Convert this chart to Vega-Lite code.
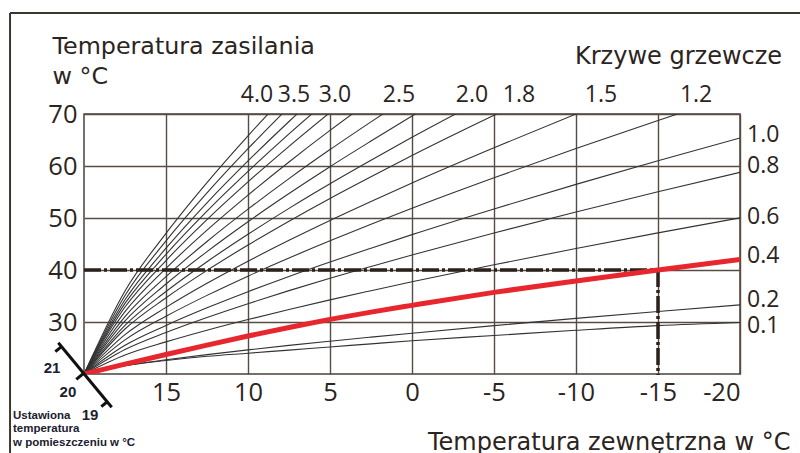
{
  "$schema": "https://vega.github.io/schema/vega-lite/v6.json",
  "width": 656,
  "height": 260,
  "autosize": {"type": "none"},
  "padding": {"left": 84, "top": 114, "right": 60, "bottom": 79},
  "background": "white",
  "config": {
    "view": {"stroke": "#4a403a", "strokeWidth": 1.5},
    "font": "Open Sans",
    "axis": {"domain": false, "ticks": false, "gridColor": "#574c44", "gridWidth": 1.4, "gridOpacity": 1, "labelColor": "#2b2420", "titleColor": "#2b2420", "labelFont": "Open Sans", "titleFont": "DejaVu Sans", "titleFontWeight": "normal"}
  },
  "datasets": {
    "curves": [
      {"curve": "g01", "outdoor": 20, "flow": 20}, {"curve": "g01", "outdoor": 17.5, "flow": 35.97}, {"curve": "g01", "outdoor": 15, "flow": 47.05}, {"curve": "g01", "outdoor": 12.5, "flow": 56.81}, {"curve": "g01", "outdoor": 10, "flow": 65.8}, {"curve": "g01", "outdoor": 7.5, "flow": 74.29},
      {"curve": "g02", "outdoor": 20, "flow": 20}, {"curve": "g02", "outdoor": 17.5, "flow": 35.11}, {"curve": "g02", "outdoor": 15, "flow": 45.59}, {"curve": "g02", "outdoor": 12.5, "flow": 54.83}, {"curve": "g02", "outdoor": 10, "flow": 63.33}, {"curve": "g02", "outdoor": 7.5, "flow": 71.35},
      {"curve": "g03", "outdoor": 20, "flow": 20}, {"curve": "g03", "outdoor": 17.5, "flow": 34.28}, {"curve": "g03", "outdoor": 15, "flow": 44.19}, {"curve": "g03", "outdoor": 12.5, "flow": 52.93}, {"curve": "g03", "outdoor": 10, "flow": 60.97}, {"curve": "g03", "outdoor": 7.5, "flow": 68.56}, {"curve": "g03", "outdoor": 5, "flow": 75.77},
      {"curve": "g04", "outdoor": 20, "flow": 20}, {"curve": "g04", "outdoor": 17.5, "flow": 33.58}, {"curve": "g04", "outdoor": 15, "flow": 43.0}, {"curve": "g04", "outdoor": 12.5, "flow": 51.31}, {"curve": "g04", "outdoor": 10, "flow": 58.95}, {"curve": "g04", "outdoor": 7.5, "flow": 66.17}, {"curve": "g04", "outdoor": 5, "flow": 73.03},
      {"curve": "g05", "outdoor": 20, "flow": 20}, {"curve": "g05", "outdoor": 17.5, "flow": 32.88}, {"curve": "g05", "outdoor": 15, "flow": 41.82}, {"curve": "g05", "outdoor": 12.5, "flow": 49.69}, {"curve": "g05", "outdoor": 10, "flow": 56.94}, {"curve": "g05", "outdoor": 7.5, "flow": 63.78}, {"curve": "g05", "outdoor": 5, "flow": 70.29},
      {"curve": "g06", "outdoor": 20, "flow": 20}, {"curve": "g06", "outdoor": 17.5, "flow": 32.0}, {"curve": "g06", "outdoor": 15, "flow": 40.32}, {"curve": "g06", "outdoor": 12.5, "flow": 47.66}, {"curve": "g06", "outdoor": 10, "flow": 54.41}, {"curve": "g06", "outdoor": 7.5, "flow": 60.78}, {"curve": "g06", "outdoor": 5, "flow": 66.84}, {"curve": "g06", "outdoor": 2.5, "flow": 72.62},
      {"curve": "g07", "outdoor": 20, "flow": 20}, {"curve": "g07", "outdoor": 17.5, "flow": 31.05}, {"curve": "g07", "outdoor": 15, "flow": 38.72}, {"curve": "g07", "outdoor": 12.5, "flow": 45.48}, {"curve": "g07", "outdoor": 10, "flow": 51.7}, {"curve": "g07", "outdoor": 7.5, "flow": 57.58}, {"curve": "g07", "outdoor": 5, "flow": 63.16}, {"curve": "g07", "outdoor": 2.5, "flow": 68.49}, {"curve": "g07", "outdoor": 0, "flow": 73.69},
      {"curve": "g08", "outdoor": 20, "flow": 20}, {"curve": "g08", "outdoor": 17.5, "flow": 30.21}, {"curve": "g08", "outdoor": 15, "flow": 37.3}, {"curve": "g08", "outdoor": 12.5, "flow": 43.54}, {"curve": "g08", "outdoor": 10, "flow": 49.29}, {"curve": "g08", "outdoor": 7.5, "flow": 54.71}, {"curve": "g08", "outdoor": 5, "flow": 59.87}, {"curve": "g08", "outdoor": 2.5, "flow": 64.79}, {"curve": "g08", "outdoor": 0, "flow": 69.6}, {"curve": "g08", "outdoor": -5, "flow": 78.74},
      {"curve": "g09", "outdoor": 20, "flow": 20}, {"curve": "g09", "outdoor": 17.5, "flow": 29.37}, {"curve": "g09", "outdoor": 15, "flow": 35.87}, {"curve": "g09", "outdoor": 12.5, "flow": 41.6}, {"curve": "g09", "outdoor": 10, "flow": 46.87}, {"curve": "g09", "outdoor": 7.5, "flow": 51.85}, {"curve": "g09", "outdoor": 5, "flow": 56.58}, {"curve": "g09", "outdoor": 2.5, "flow": 61.1}, {"curve": "g09", "outdoor": 0, "flow": 65.51}, {"curve": "g09", "outdoor": -5, "flow": 73.89},
      {"curve": "g10", "outdoor": 20, "flow": 20}, {"curve": "g10", "outdoor": 17.5, "flow": 28.65}, {"curve": "g10", "outdoor": 15, "flow": 34.65}, {"curve": "g10", "outdoor": 12.5, "flow": 39.93}, {"curve": "g10", "outdoor": 10, "flow": 44.8}, {"curve": "g10", "outdoor": 7.5, "flow": 49.39}, {"curve": "g10", "outdoor": 5, "flow": 53.76}, {"curve": "g10", "outdoor": 2.5, "flow": 57.93}, {"curve": "g10", "outdoor": 0, "flow": 62.0}, {"curve": "g10", "outdoor": -5, "flow": 69.74}, {"curve": "g10", "outdoor": -10, "flow": 77.15},
      {"curve": "g11", "outdoor": 20, "flow": 20}, {"curve": "g11", "outdoor": 17.5, "flow": 27.56}, {"curve": "g11", "outdoor": 15, "flow": 32.81}, {"curve": "g11", "outdoor": 12.5, "flow": 37.44}, {"curve": "g11", "outdoor": 10, "flow": 41.69}, {"curve": "g11", "outdoor": 7.5, "flow": 45.71}, {"curve": "g11", "outdoor": 5, "flow": 49.53}, {"curve": "g11", "outdoor": 2.5, "flow": 53.18}, {"curve": "g11", "outdoor": 0, "flow": 56.74}, {"curve": "g11", "outdoor": -5, "flow": 63.51}, {"curve": "g11", "outdoor": -10, "flow": 69.99}, {"curve": "g11", "outdoor": -15, "flow": 76.21},
      {"curve": "g12", "outdoor": 20, "flow": 20}, {"curve": "g12", "outdoor": 17.5, "flow": 26.56}, {"curve": "g12", "outdoor": 15, "flow": 31.11}, {"curve": "g12", "outdoor": 12.5, "flow": 35.12}, {"curve": "g12", "outdoor": 10, "flow": 38.82}, {"curve": "g12", "outdoor": 7.5, "flow": 42.3}, {"curve": "g12", "outdoor": 5, "flow": 45.61}, {"curve": "g12", "outdoor": 2.5, "flow": 48.78}, {"curve": "g12", "outdoor": 0, "flow": 51.87}, {"curve": "g12", "outdoor": -5, "flow": 57.74}, {"curve": "g12", "outdoor": -10, "flow": 63.36}, {"curve": "g12", "outdoor": -15, "flow": 68.76}, {"curve": "g12", "outdoor": -20, "flow": 73.96},
      {"curve": "1.0", "outdoor": 20, "flow": 20}, {"curve": "1.0", "outdoor": 17.5, "flow": 25.52}, {"curve": "1.0", "outdoor": 15, "flow": 29.34}, {"curve": "1.0", "outdoor": 12.5, "flow": 32.72}, {"curve": "1.0", "outdoor": 10, "flow": 35.82}, {"curve": "1.0", "outdoor": 7.5, "flow": 38.76}, {"curve": "1.0", "outdoor": 5, "flow": 41.54}, {"curve": "1.0", "outdoor": 2.5, "flow": 44.2}, {"curve": "1.0", "outdoor": 0, "flow": 46.8}, {"curve": "1.0", "outdoor": -5, "flow": 51.74}, {"curve": "1.0", "outdoor": -10, "flow": 56.47}, {"curve": "1.0", "outdoor": -15, "flow": 61.0}, {"curve": "1.0", "outdoor": -20, "flow": 65.38},
      {"curve": "0.8", "outdoor": 20, "flow": 20}, {"curve": "0.8", "outdoor": 17.5, "flow": 24.71}, {"curve": "0.8", "outdoor": 15, "flow": 27.99}, {"curve": "0.8", "outdoor": 12.5, "flow": 30.87}, {"curve": "0.8", "outdoor": 10, "flow": 33.52}, {"curve": "0.8", "outdoor": 7.5, "flow": 36.03}, {"curve": "0.8", "outdoor": 5, "flow": 38.41}, {"curve": "0.8", "outdoor": 2.5, "flow": 40.68}, {"curve": "0.8", "outdoor": 0, "flow": 42.9}, {"curve": "0.8", "outdoor": -5, "flow": 47.12}, {"curve": "0.8", "outdoor": -10, "flow": 51.16}, {"curve": "0.8", "outdoor": -15, "flow": 55.04}, {"curve": "0.8", "outdoor": -20, "flow": 58.78},
      {"curve": "0.6", "outdoor": 20, "flow": 20}, {"curve": "0.6", "outdoor": 17.5, "flow": 23.65}, {"curve": "0.6", "outdoor": 15, "flow": 26.18}, {"curve": "0.6", "outdoor": 12.5, "flow": 28.42}, {"curve": "0.6", "outdoor": 10, "flow": 30.47}, {"curve": "0.6", "outdoor": 7.5, "flow": 32.41}, {"curve": "0.6", "outdoor": 5, "flow": 34.26}, {"curve": "0.6", "outdoor": 2.5, "flow": 36.02}, {"curve": "0.6", "outdoor": 0, "flow": 37.74}, {"curve": "0.6", "outdoor": -5, "flow": 41.0}, {"curve": "0.6", "outdoor": -10, "flow": 44.13}, {"curve": "0.6", "outdoor": -15, "flow": 47.14}, {"curve": "0.6", "outdoor": -20, "flow": 50.03},
      {"curve": "0.4", "outdoor": 20, "flow": 20}, {"curve": "0.4", "outdoor": 17.5, "flow": 21.9}, {"curve": "0.4", "outdoor": 15, "flow": 23.75}, {"curve": "0.4", "outdoor": 12.5, "flow": 25.55}, {"curve": "0.4", "outdoor": 10, "flow": 27.3}, {"curve": "0.4", "outdoor": 7.5, "flow": 28.95}, {"curve": "0.4", "outdoor": 5, "flow": 30.5}, {"curve": "0.4", "outdoor": 2.5, "flow": 31.9}, {"curve": "0.4", "outdoor": 0, "flow": 33.2}, {"curve": "0.4", "outdoor": -5, "flow": 35.7}, {"curve": "0.4", "outdoor": -10, "flow": 37.9}, {"curve": "0.4", "outdoor": -15, "flow": 40.0}, {"curve": "0.4", "outdoor": -20, "flow": 42.0},
      {"curve": "0.2", "outdoor": 20, "flow": 20}, {"curve": "0.2", "outdoor": 17.5, "flow": 21.62}, {"curve": "0.2", "outdoor": 15, "flow": 22.74}, {"curve": "0.2", "outdoor": 12.5, "flow": 23.73}, {"curve": "0.2", "outdoor": 10, "flow": 24.64}, {"curve": "0.2", "outdoor": 7.5, "flow": 25.5}, {"curve": "0.2", "outdoor": 5, "flow": 26.31}, {"curve": "0.2", "outdoor": 2.5, "flow": 27.09}, {"curve": "0.2", "outdoor": 0, "flow": 27.85}, {"curve": "0.2", "outdoor": -5, "flow": 29.3}, {"curve": "0.2", "outdoor": -10, "flow": 30.69}, {"curve": "0.2", "outdoor": -15, "flow": 32.02}, {"curve": "0.2", "outdoor": -20, "flow": 33.3},
      {"curve": "0.1", "outdoor": 20, "flow": 20}, {"curve": "0.1", "outdoor": 17.5, "flow": 21.6}, {"curve": "0.1", "outdoor": 15, "flow": 22.6}, {"curve": "0.1", "outdoor": 12.5, "flow": 23.4}, {"curve": "0.1", "outdoor": 10, "flow": 24.0}, {"curve": "0.1", "outdoor": 7.5, "flow": 24.6}, {"curve": "0.1", "outdoor": 5, "flow": 25.2}, {"curve": "0.1", "outdoor": 2.5, "flow": 25.8}, {"curve": "0.1", "outdoor": 0, "flow": 26.4}, {"curve": "0.1", "outdoor": -5, "flow": 27.4}, {"curve": "0.1", "outdoor": -10, "flow": 28.4}, {"curve": "0.1", "outdoor": -15, "flow": 29.3}, {"curve": "0.1", "outdoor": -20, "flow": 29.9}
    ],
    "topLabels": [
      {"label": "4.0", "outdoor": 9.45, "flow": 72.3},
      {"label": "3.5", "outdoor": 7.2, "flow": 72.3},
      {"label": "3.0", "outdoor": 4.7, "flow": 72.3},
      {"label": "2.5", "outdoor": 0.79, "flow": 72.3},
      {"label": "2.0", "outdoor": -3.66, "flow": 72.3},
      {"label": "1.8", "outdoor": -6.52, "flow": 72.3},
      {"label": "1.5", "outdoor": -11.52, "flow": 72.3},
      {"label": "1.2", "outdoor": -17.32, "flow": 72.3}
    ],
    "rightLabels": [
      {"label": "1.0", "outdoor": -20.43, "flow": 65.96},
      {"label": "0.8", "outdoor": -20.43, "flow": 60.0},
      {"label": "0.6", "outdoor": -20.43, "flow": 50.19},
      {"label": "0.4", "outdoor": -20.43, "flow": 42.69},
      {"label": "0.2", "outdoor": -20.43, "flow": 34.23},
      {"label": "0.1", "outdoor": -20.43, "flow": 29.23}
    ],
    "header": [
      {"label": "Krzywe grzewcze", "outdoor": -9.94, "flow": 79.62}
    ],
    "guide": [
      {"outdoor": 20, "flow": 40, "outdoor2": -15, "flow2": 40},
      {"outdoor": -15, "flow": 40, "outdoor2": -15, "flow2": 19.8}
    ],
    "roomScale": [
      {"outdoor": 21.567, "flow": 26.02, "outdoor2": 18.311, "flow2": 13.6},
      {"outdoor": 21.372, "flow": 25.27, "outdoor2": 21.75, "flow2": 24.29},
      {"outdoor": 20.0, "flow": 20.19, "outdoor2": 20.47, "flow2": 18.96},
      {"outdoor": 18.567, "flow": 14.71, "outdoor2": 18.945, "flow2": 13.73}
    ],
    "roomLabels": [
      {"label": "21", "outdoor": 21.95, "flow": 21.15},
      {"label": "20", "outdoor": 20.98, "flow": 16.54},
      {"label": "19", "outdoor": 19.63, "flow": 12.12}
    ],
    "roomCaption": [
      {"label": "Ustawiona", "outdoor": 24.33, "flow": 11.35},
      {"label": "temperatura", "outdoor": 24.33, "flow": 8.85},
      {"label": "w pomieszczeniu w °C", "outdoor": 24.33, "flow": 6.15}
    ],
    "frame": [
      {"outdoor": 24.51, "flow": 89.42, "outdoor2": -23.66, "flow2": 89.42},
      {"outdoor": 24.51, "flow": 89.42, "outdoor2": 24.51, "flow2": 4.81}
    ]
  },
  "layer": [
    {
      "data": {"name": "curves"},
      "transform": [{"filter": "datum.curve !== '0.4'"}],
      "mark": {"type": "line", "clip": true, "stroke": "#333333", "strokeWidth": 1.1, "interpolate": "monotone"},
      "encoding": {
        "x": {
          "field": "outdoor", "type": "quantitative",
          "scale": {"domain": [-20, 20], "reverse": true, "nice": false, "zero": false},
          "axis": {
            "values": [15, 10, 5, 0, -5, -10, -15, -20],
            "labelExpr": "'' + datum.value",
            "grid": true,
            "labelFontSize": 25.5,
            "labelPadding": 6,
            "title": "Temperatura zewnętrzna w °C",
            "titleFontSize": 24,
            "titleX": 706,
            "titleY": 75,
            "titleAlign": "right",
            "titleBaseline": "alphabetic"
          }
        },
        "y": {
          "field": "flow", "type": "quantitative",
          "scale": {"domain": [20, 70], "nice": false, "zero": false},
          "axis": {
            "values": [30, 40, 50, 60, 70],
            "grid": true,
            "labelFontSize": 25.5,
            "labelPadding": 7,
            "title": ["Temperatura zasilania", "w °C"],
            "titleFontSize": 23.8,
            "titleAngle": 0,
            "titleAlign": "left",
            "titleBaseline": "alphabetic",
            "titleX": -32,
            "titleY": -61,
            "titleLineHeight": 30
          }
        },
        "detail": {"field": "curve"}
      }
    },
    {
      "data": {"name": "guide"},
      "mark": {"type": "rule", "stroke": "#2a211c", "strokeWidth": 3.5, "strokeDash": [17, 3, 3, 3]},
      "encoding": {
        "x": {"field": "outdoor", "type": "quantitative"},
        "x2": {"field": "outdoor2"},
        "y": {"field": "flow", "type": "quantitative"},
        "y2": {"field": "flow2"}
      }
    },
    {
      "data": {"name": "curves"},
      "transform": [{"filter": "datum.curve === '0.4'"}],
      "mark": {"type": "line", "clip": true, "stroke": "#e8262e", "strokeWidth": 5, "interpolate": "monotone"},
      "encoding": {
        "x": {"field": "outdoor", "type": "quantitative"},
        "y": {"field": "flow", "type": "quantitative"}
      }
    },
    {
      "data": {"name": "topLabels"},
      "mark": {"type": "text", "fontSize": 23, "color": "#2b2420", "align": "center", "baseline": "alphabetic"},
      "encoding": {
        "x": {"field": "outdoor", "type": "quantitative"},
        "y": {"field": "flow", "type": "quantitative"},
        "text": {"field": "label"}
      }
    },
    {
      "data": {"name": "rightLabels"},
      "mark": {"type": "text", "fontSize": 23, "color": "#2b2420", "align": "left", "baseline": "middle"},
      "encoding": {
        "x": {"field": "outdoor", "type": "quantitative"},
        "y": {"field": "flow", "type": "quantitative"},
        "text": {"field": "label"}
      }
    },
    {
      "data": {"name": "header"},
      "mark": {"type": "text", "font": "DejaVu Sans", "fontSize": 24, "color": "#2b2420", "align": "left", "baseline": "alphabetic"},
      "encoding": {
        "x": {"field": "outdoor", "type": "quantitative"},
        "y": {"field": "flow", "type": "quantitative"},
        "text": {"field": "label"}
      }
    },
    {
      "data": {"name": "roomScale"},
      "mark": {"type": "rule", "stroke": "#111111", "strokeWidth": 3},
      "encoding": {
        "x": {"field": "outdoor", "type": "quantitative"},
        "x2": {"field": "outdoor2"},
        "y": {"field": "flow", "type": "quantitative"},
        "y2": {"field": "flow2"}
      }
    },
    {
      "data": {"name": "roomLabels"},
      "mark": {"type": "text", "font": "Liberation Sans", "fontWeight": "bold", "fontSize": 15, "color": "#1c2030", "align": "center", "baseline": "middle"},
      "encoding": {
        "x": {"field": "outdoor", "type": "quantitative"},
        "y": {"field": "flow", "type": "quantitative"},
        "text": {"field": "label"}
      }
    },
    {
      "data": {"name": "roomCaption"},
      "mark": {"type": "text", "font": "Liberation Sans", "fontWeight": "bold", "fontSize": 11.5, "color": "#1c2030", "align": "left", "baseline": "alphabetic"},
      "encoding": {
        "x": {"field": "outdoor", "type": "quantitative"},
        "y": {"field": "flow", "type": "quantitative"},
        "text": {"field": "label"}
      }
    },
    {
      "data": {"name": "frame"},
      "mark": {"type": "rule", "stroke": "#3d3530", "strokeWidth": 2},
      "encoding": {
        "x": {"field": "outdoor", "type": "quantitative"},
        "x2": {"field": "outdoor2"},
        "y": {"field": "flow", "type": "quantitative"},
        "y2": {"field": "flow2"}
      }
    }
  ]
}
